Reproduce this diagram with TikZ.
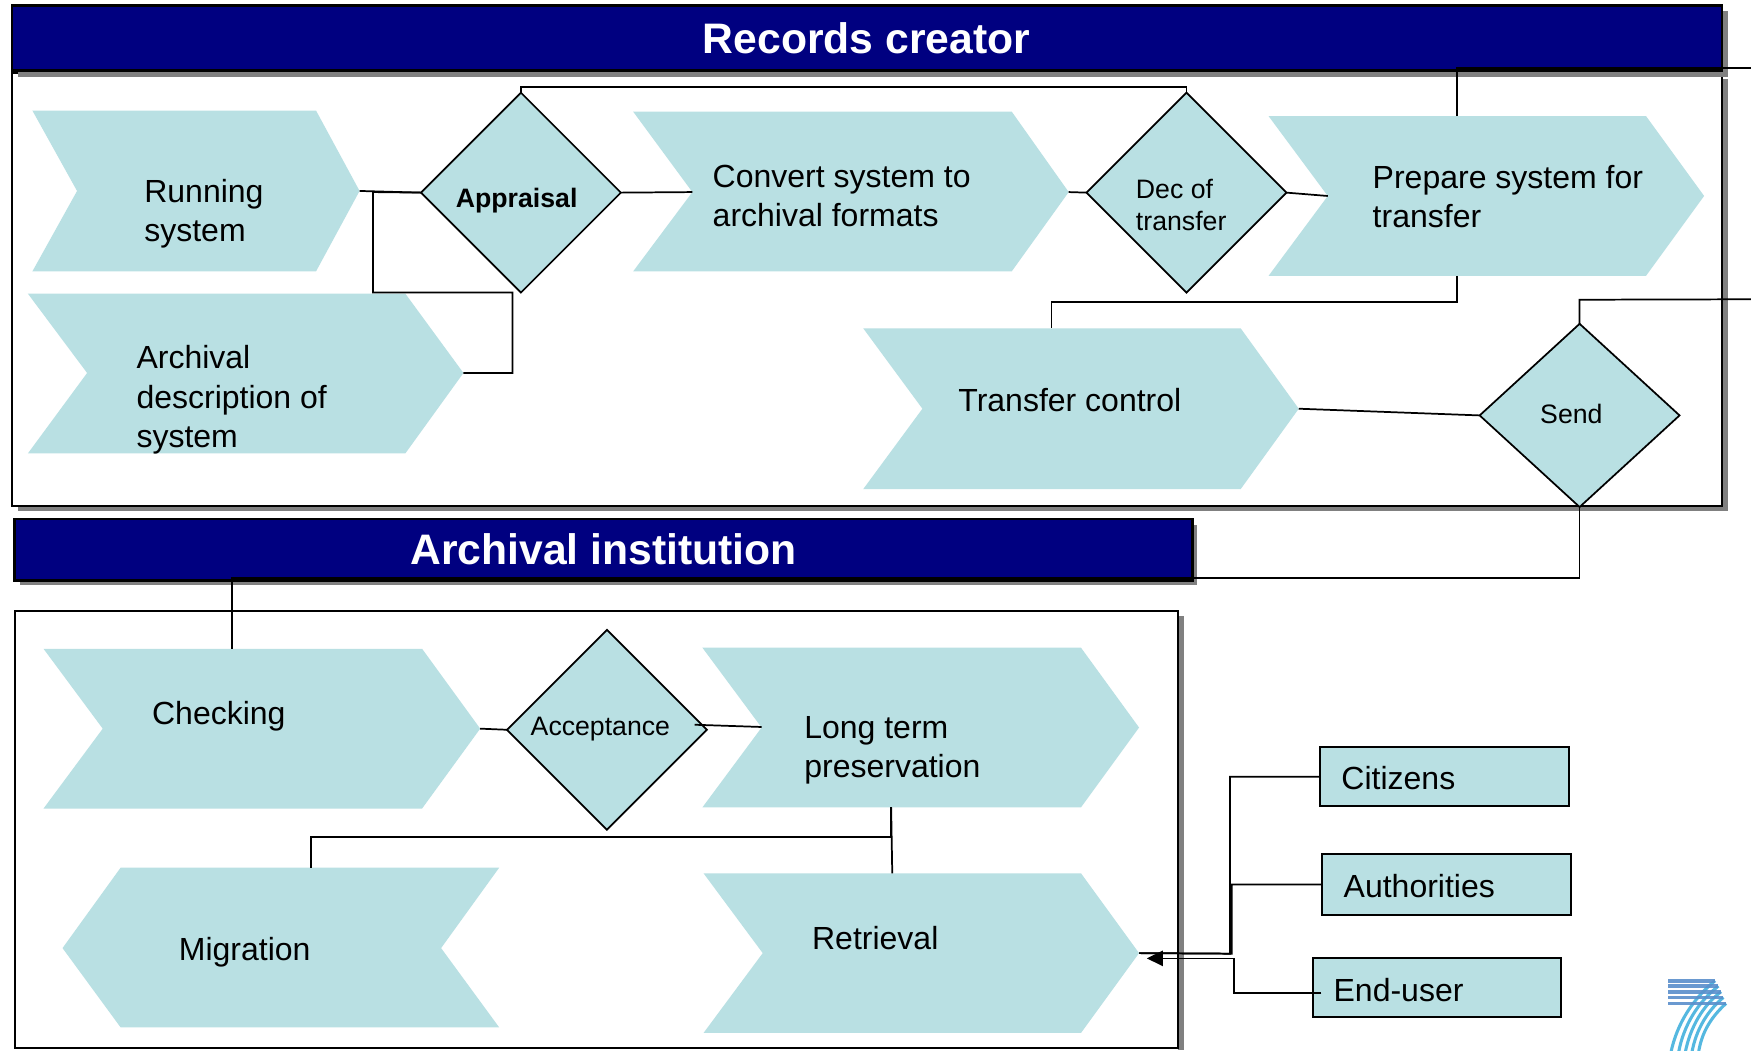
\documentclass[tikz,border=0pt]{standalone}
\usepackage{fontspec}
\setmainfont{Liberation Sans}
\usetikzlibrary{shapes.geometric,arrows.meta,calc}
\definecolor{chevfill}{HTML}{B9E0E3}
\definecolor{navybar}{HTML}{000080}
\definecolor{shadowgray}{HTML}{808080}
\definecolor{logocyan}{HTML}{55B8E0}
\definecolor{logostripe}{HTML}{5A8FCB}
\tikzset{
  x=0.8375pt,y=-0.8375pt,
  conn/.style={draw=black,line width=1.3pt},
  lbl/.style={anchor=west,align=left,inner sep=0pt,font=\fontsize{24}{29.3}\selectfont},
  dlbl/.style={anchor=west,align=left,inner sep=0pt,font=\fontsize{20}{24.5}\selectfont},
  ttl/.style={inner sep=0pt,text=white,font=\fontsize{32}{38}\selectfont\bfseries},
  decide/.style={shape=diamond,draw=black,fill=chevfill,line width=1.3pt,inner sep=0pt,outer sep=0pt},
  actor/.style={draw=black,fill=chevfill,line width=1.6pt,inner sep=0pt,outer sep=0pt},
  frame/.style={draw=black,fill=white,line width=1.8pt},
  bar/.style={draw=black,fill=navybar,line width=1.8pt},
  shade/.style={fill=shadowgray},
  ghost/.style={inner sep=0pt,outer sep=0pt},
  logostrand/.style={draw=logocyan,line width=2.3pt},
  logobar/.style={draw=logostripe,line width=2.7pt,opacity=0.9}
}
% name, x-left, x-shoulder, x-tip, x-notch, y-top, y-mid, y-bottom
\newcommand{\chevR}[8]{%
  \fill[chevfill] (#2,#6) -- (#3,#6) -- (#4,#7) -- (#3,#8) -- (#2,#8) -- (#5,#7) -- cycle;
  \node[ghost,minimum width={(#4-#2)*0.8375pt},minimum height={(#8-#6)*0.8375pt}] (#1) at ({(#2+#4)/2},#7) {};
}
\begin{document}
\begin{tikzpicture}
\useasboundingbox (0,0) rectangle (1568,940.3);
\fill[white] (0,0) rectangle (1568,940.3);

% frames
\fill[shade] (16,71) rectangle (1547,458);
\path[frame] (11,65) rectangle (1542,453);
\fill[shade] (16,10) rectangle (1547,68.7);
\path[bar] (11,5) rectangle (1542,63);
\node[ttl] (titleA) at (776,34) {Records creator};

\fill[shade] (18,470) rectangle (1072,524);
\path[bar] (13,465) rectangle (1068,520);
\node[ttl] (titleB) at (540.5,492) {Archival institution};

\fill[shade] (1055,552) rectangle (1060,940.3);
\path[frame] (13.5,547) rectangle (1055,938.5);

% process shapes
\chevR{run}{29}{283}{322}{69}{99}{171}{243}
\chevR{desc}{25}{363}{415}{78}{263}{334}{406}
\chevR{conv}{567}{906}{957}{620}{100}{172}{243}
\chevR{prep}{1136}{1474}{1526}{1189}{104}{175.5}{247}
\chevR{ctrl}{773}{1111}{1163}{826}{294}{366}{438}
\chevR{check}{39}{378}{430}{92}{581}{652.5}{724}
\chevR{ltp}{629}{968}{1020}{682}{580}{651.5}{723}
\chevR{retr}{630}{968}{1020}{683}{782}{853.5}{925}
\fill[chevfill] (56,849) -- (108,777) -- (447,777) -- (395,849) -- (447,920) -- (108,920) -- cycle;
\node[ghost,minimum width={391*0.8375pt},minimum height={143*0.8375pt}] (migr) at (251.5,848.5) {};

% decisions
\node[decide,minimum width=149.9pt,minimum height=149.9pt] (appr) at (466.5,172.5) {};
\node[decide,minimum width=149.9pt,minimum height=149.9pt] (dect) at (1062.5,172.5) {};
\node[decide,minimum width=149.9pt,minimum height=137.4pt] (send) at (1414.5,372) {};
\node[decide,minimum width=149.9pt,minimum height=149.9pt] (acc) at (543.5,653.5) {};

% actors
\node[actor,minimum width={223*0.8375pt},minimum height={53*0.8375pt}] (citi) at (1293.5,695.5) {};
\node[actor,minimum width={223*0.8375pt},minimum height={54*0.8375pt}] (auth) at (1295.5,792) {};
\node[actor,minimum width={222*0.8375pt},minimum height={53*0.8375pt}] (endu) at (1287,884.5) {};

% free ends
\coordinate (exitA) at (1568,61);
\coordinate (exitB) at (1568,268);

% connectors
\path[conn] (run.east) -- (appr.west);
\path[conn] (desc.east) -- (459,334) -- (459,262) -- (334,262) -- (334,172) -- (appr.west);
\path[conn] (appr.east) -- (620,172);
\path[conn] (appr.north) -- (466.5,78) -- (1062.5,78) -- (dect.north);
\path[conn] (conv.east) -- (dect.west);
\path[conn] (dect.east) -- (1189,175.5);
\path[conn] (1304.5,0 |- prep.north) -- (1304.5,61) -- (exitA);
\path[conn] (1304.5,0 |- prep.south) -- (1304.5,270.3) -- (941.6,270.3) -- (941.6,0 |- ctrl.north);
\path[conn] (ctrl.east) -- (send.west);
\path[conn] (send.north) -- (1414.5,268.4) -- (exitB);
\path[conn] (send.south) -- (1414.5,517.6) -- (208,517.6) -- (208,0 |- check.north);
\path[conn] (check.east) -- (acc.west);
\path[conn] (622,649) -- (682,651);
\path[conn] (798,0 |- ltp.south) -- (798,749.5) -- (278.4,749.5) -- (278.4,0 |- migr.north);
\path[conn] (798,0 |- ltp.south) -- (799,0 |- retr.north);
\path[conn] (citi.west) -- (1101.5,695.5) -- (1101.5,854) -- (retr.east);
\path[conn] (auth.west) -- (1103,792) -- (1103,854) -- (retr.east);
\path[conn,-{Triangle[length=12pt,width=11.5pt]}] ([xshift=6pt]endu.west |- 0,889) -- (1105,889) -- (1105,858.2) -- (1027,858.2);

% labels
\node[lbl] (trun) at (129,191.5) {Running\\system};
\node[lbl] (tdesc) at (122,358) {Archival\\description of\\system};
\node[lbl] (tconv) at (638,175.5) {Convert system to\\archival formats};
\node[lbl] (tprep) at (1229,176) {Prepare system for\\transfer};
\node[lbl] (tctrl) at (858,358.5) {Transfer control};
\node[lbl] (tchk) at (136,641.5) {Checking};
\node[lbl] (tltp) at (720,672) {Long term\\preservation};
\node[lbl] (tmig) at (160,852.5) {Migration};
\node[lbl] (tret) at (727,840) {Retrieval};
\node[lbl] (tcit) at (1201,697) {Citizens};
\node[lbl] (taut) at (1203,793.5) {Authorities};
\node[lbl] (tend) at (1194,886.5) {End-user};
\node[dlbl,font=\fontsize{20}{24.5}\selectfont\bfseries] (tapp) at (408,180) {Appraisal};
\node[dlbl] (tdec) at (1017,183.5) {Dec of\\transfer};
\node[dlbl] (tsnd) at (1379,371) {Send};
\node[dlbl] (tacc) at (475,653) {Acceptance};

% logo
\begin{scope}[shift={(1477.6,859.7)},x=0.25pt,y=-0.25pt]
\path[logostrand] (195,62) .. controls (130,115) and (80,190) .. (62,280);
\path[logostrand] (205,78) .. controls (145,125) and (100,195) .. (85,280);
\path[logostrand] (213,95) .. controls (160,135) and (120,200) .. (105,280);
\path[logostrand] (220,112) .. controls (175,150) and (138,205) .. (125,280);
\path[logostrand] (228,130) .. controls (190,165) and (155,210) .. (145,280);
\path[logobar] (55,62) -- (195,62);
\path[logobar] (55,78) -- (205,78);
\path[logobar] (55,95) -- (213,95);
\path[logobar] (55,112) -- (220,112);
\path[logobar] (55,130) -- (228,130);
\end{scope}
\end{tikzpicture}
\end{document}
